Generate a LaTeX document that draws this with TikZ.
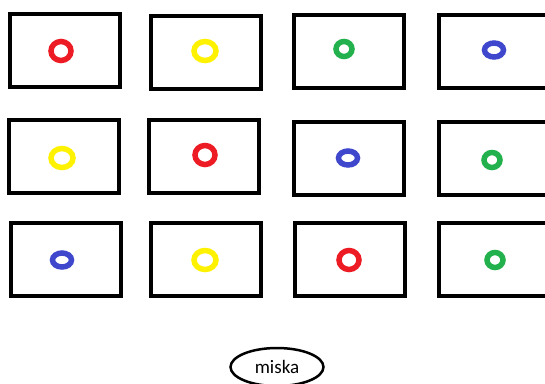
\documentclass[tikz,border=0pt]{standalone}
\usepackage{fontspec}
\setmainfont{Carlito}
\usepackage{tikz}
\usetikzlibrary{shapes.geometric}
\definecolor{paintred}{RGB}{237,28,36}
\definecolor{paintyellow}{RGB}{255,242,0}
\definecolor{paintgreen}{RGB}{34,177,76}
\definecolor{paintblue}{RGB}{63,72,204}
\tikzset{
  tablebox/.style={draw=black,line width=4pt,minimum width=110pt,minimum height=73pt,
    inner sep=0pt},
  ringmark/.style={ellipse,line width=5.5pt,inner sep=0pt},
  bowlnode/.style={ellipse,draw=black,line width=2.5pt,minimum width=93pt,
    minimum height=38pt,inner sep=0pt,font=\fontsize{19}{22}\selectfont}
}

\begin{document}
\begin{tikzpicture}[x=1pt,y=-1pt]
  \useasboundingbox (0,0) rectangle (545,383);
  % boxes, row by row
  \foreach \n/\x/\y in {11/65/50.5,12/205.5/52,13/348.5/51,14/494/51,
                        21/64/156.5,22/204/156.5,23/348.5/158,24/494/158,
                        31/65.5/259,32/206/259.5,33/349.5/259.5,34/494/259.5}
    \node[tablebox] (box\n) at (\x,\y) {};
  % rings
  \foreach \n/\x/\y/\c/\w/\h in {11/61/51/paintred/20/19,12/205/51/paintyellow/22/19,
      13/344/49/paintgreen/16/15,14/494/50/paintblue/19/14,
      21/62/158/paintyellow/22/19,22/205/155/paintred/20/19,
      23/348/158/paintblue/19/14,24/492/160/paintgreen/16/15,
      31/62/260/paintblue/19/14,32/205/260/paintyellow/22/19,
      33/349/260/paintred/20/19,34/495/260/paintgreen/16/15}
    \node[ringmark,draw=\c,minimum width=\w pt,minimum height=\h pt] (ring\n) at (\x,\y) {};
  \node[bowlnode] (miska) at (277,367) {miska};
\end{tikzpicture}
\end{document}
